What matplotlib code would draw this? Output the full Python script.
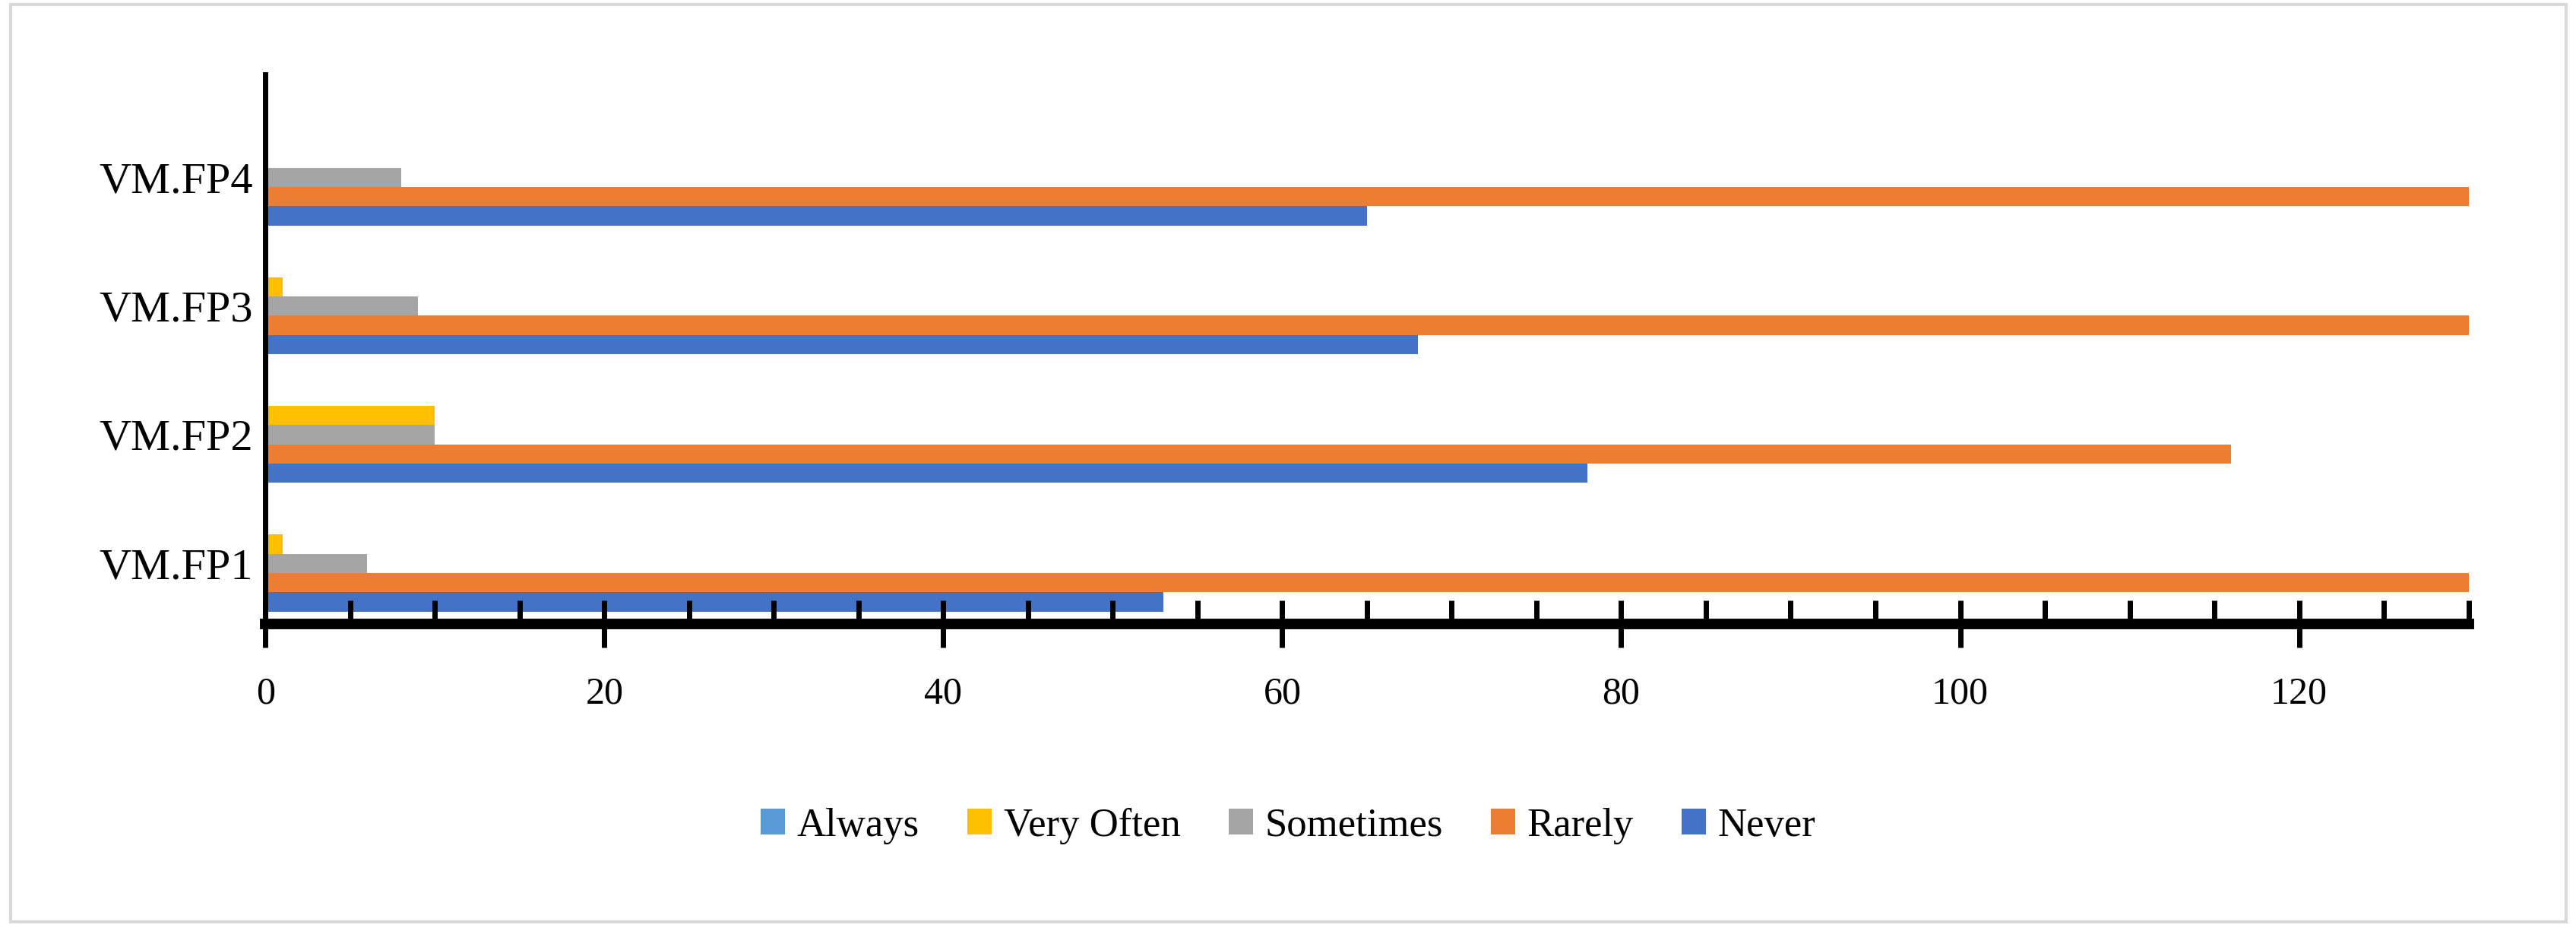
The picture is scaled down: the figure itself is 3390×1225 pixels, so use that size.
import numpy as np
import matplotlib.pyplot as plt
from matplotlib.patches import Rectangle
from matplotlib.ticker import MultipleLocator

plt.rcParams['font.family'] = ['Liberation Serif', 'DejaVu Serif']

items = ["VM.FP1", "VM.FP2", "VM.FP3", "VM.FP4"]
series = ["Never", "Rarely", "Sometimes", "Very Often", "Always"]
never = [53, 78, 68, 65]
rarely = [154, 116, 136, 141]
sometimes = [6, 10, 9, 8]
very_often = [1, 10, 1, 0]
always = [0, 0, 0, 0]
colors = ["#4472C4", "#ED7D31", "#A5A5A5", "#FFC000", "#5B9BD5"]

values = [never, rarely, sometimes, very_often, always]

fig = plt.figure(figsize=(16.955, 6.125), dpi=200)
fig.patches.append(Rectangle((0.004, 0.01), 0.992, 0.985, transform=fig.transFigure,
                             fill=False, edgecolor="#d9d9d9", lw=1.5))
ax = fig.add_axes([0.103, 0.33, 0.855, 0.59])

y = np.arange(len(items))
h = 0.15
for i, (name, vals) in enumerate(zip(series, values)):
    ax.barh(y + (i - 2) * h, vals, height=h, color=colors[i], label=name)

ax.set_xlim(0, 130)
ax.set_ylim(-0.47, 3.8)
ax.set_yticks(y)
ax.set_yticklabels(items, fontsize=21)
ax.xaxis.set_major_locator(MultipleLocator(20))
ax.xaxis.set_minor_locator(MultipleLocator(5))
ax.tick_params(axis='x', which='major', direction='inout', length=22, width=2.5,
               labelsize=18, pad=14)
ax.tick_params(axis='x', which='minor', direction='in', length=11, width=2.5)
ax.tick_params(axis='y', length=0, pad=6)
ax.spines['top'].set_visible(False)
ax.spines['right'].set_visible(False)
ax.spines['bottom'].set_linewidth(5)
ax.spines['left'].set_linewidth(2.5)

handles, labels = ax.get_legend_handles_labels()
order = [4, 3, 2, 1, 0]
fig.legend([handles[k] for k in order], [labels[k] for k in order],
           loc='center', bbox_to_anchor=(0.5, 0.113), ncol=5, frameon=False,
           fontsize=19, handlelength=0.6, handleheight=0.6, columnspacing=1.2,
           handletextpad=0.3)

fig.savefig("out.png")
